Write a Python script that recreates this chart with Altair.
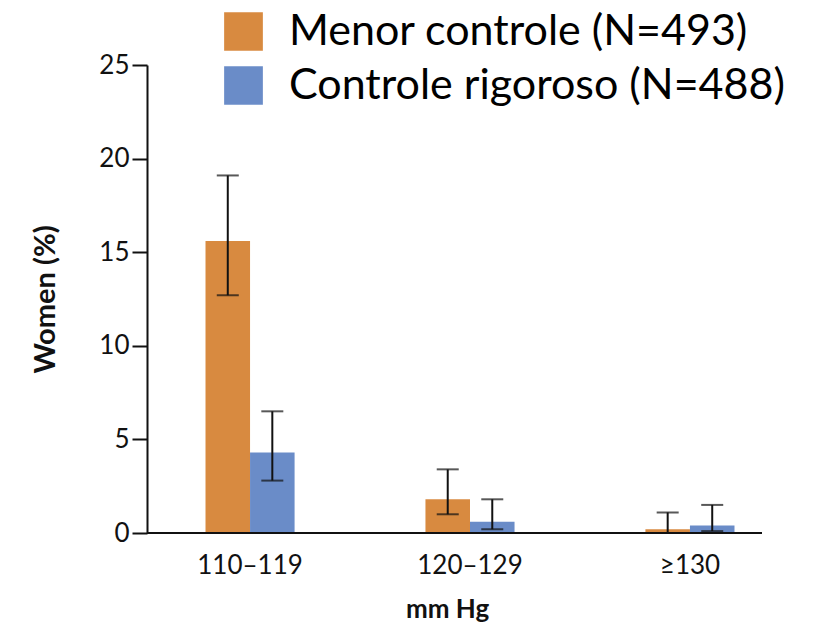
import altair as alt
import pandas as pd

groups = ["110–119", "120–129", "≥130"]
series = ["Menor controle (N=493)", "Controle rigoroso (N=488)"]
values_menor = [15.6, 1.8, 0.2]
lo_menor = [12.7, 1.0, 0.0]
hi_menor = [19.1, 3.4, 1.1]
values_rig = [4.3, 0.6, 0.4]
lo_rig = [2.8, 0.2, 0.1]
hi_rig = [6.5, 1.8, 1.5]
colors = ["#D88A40", "#6A8CC8"]

rows = []
for i, g in enumerate(groups):
    rows.append({"g": g, "s": series[0], "v": values_menor[i], "lo": lo_menor[i], "hi": hi_menor[i]})
    rows.append({"g": g, "s": series[1], "v": values_rig[i], "lo": lo_rig[i], "hi": hi_rig[i]})
df = pd.DataFrame(rows)

W, H = 646, 468
FONT = "Lato"

xscale = alt.Scale(domain=groups, paddingInner=0.595, paddingOuter=0.266)
yscale = alt.Scale(domain=[0, 25], nice=False)
xoff = alt.XOffset("s:N", sort=series, scale=alt.Scale(domain=series, paddingInner=0, paddingOuter=0))

xaxis = alt.Axis(domain=False, ticks=False, labelAngle=0, labelFontSize=26,
                 labelFont=FONT, labelColor="#111", labelPadding=19,
                 titleFont=FONT, titleFontSize=26, titleFontWeight="bold",
                 titlePadding=18, titleX=300, titleColor="#111")
yaxis = alt.Axis(values=[0, 5, 10, 15, 20, 25], grid=False, domainColor="#111",
                 domainWidth=2, tickColor="#111", tickWidth=2, tickSize=15,
                 labelFont=FONT, labelFontSize=26, labelColor="#111", labelPadding=3,
                 titleFont=FONT, titleFontSize=29, titleFontWeight="bold",
                 titleColor="#111", titlePadding=38)

xenc = alt.X("g:N", sort=groups, title="mm Hg", scale=xscale, axis=xaxis)

base = alt.Chart(df)

bars = base.mark_bar().encode(
    x=xenc, xOffset=xoff,
    y=alt.Y("v:Q", title="Women (%)", scale=yscale, axis=yaxis),
    color=alt.Color("s:N", sort=series, scale=alt.Scale(domain=series, range=colors),
                    legend=alt.Legend(title=None, orient="none", legendX=75, legendY=-55,
                                      symbolType="square", symbolSize=1500, symbolStrokeWidth=0,
                                      symbolOpacity=1, labelFontSize=43, labelFont=FONT,
                                      labelColor="#000", labelOffset=24, rowPadding=10,
                                      padding=0, labelLimit=700)),
)

rule = base.mark_rule(color="#111", strokeWidth=2).encode(
    x=xenc, xOffset=xoff,
    y=alt.Y("lo:Q", title="Women (%)", scale=yscale, axis=yaxis), y2="hi:Q")
cap_hi = base.mark_tick(color="#111", thickness=2, size=22).encode(
    x=xenc, xOffset=xoff, y=alt.Y("hi:Q", title="Women (%)", scale=yscale, axis=yaxis))
cap_lo = base.mark_tick(color="#111", thickness=2, size=22).encode(
    x=xenc, xOffset=xoff, y=alt.Y("lo:Q", title="Women (%)", scale=yscale, axis=yaxis))
xline = alt.Chart(pd.DataFrame({"a": [0]})).mark_rule(color="#111", strokeWidth=2).encode(
    x=alt.value(0), x2=alt.value(615), y=alt.value(H))

chart = alt.layer(bars, rule, cap_hi, cap_lo, xline).properties(
    width=W, height=H,
    autosize=alt.AutoSizeParams(type="none"),
    padding={"left": 139, "top": 57, "right": 10, "bottom": 93},
).configure_view(stroke=None)

chart.save("out.html", embed_options={"renderer": "svg", "actions": False})
